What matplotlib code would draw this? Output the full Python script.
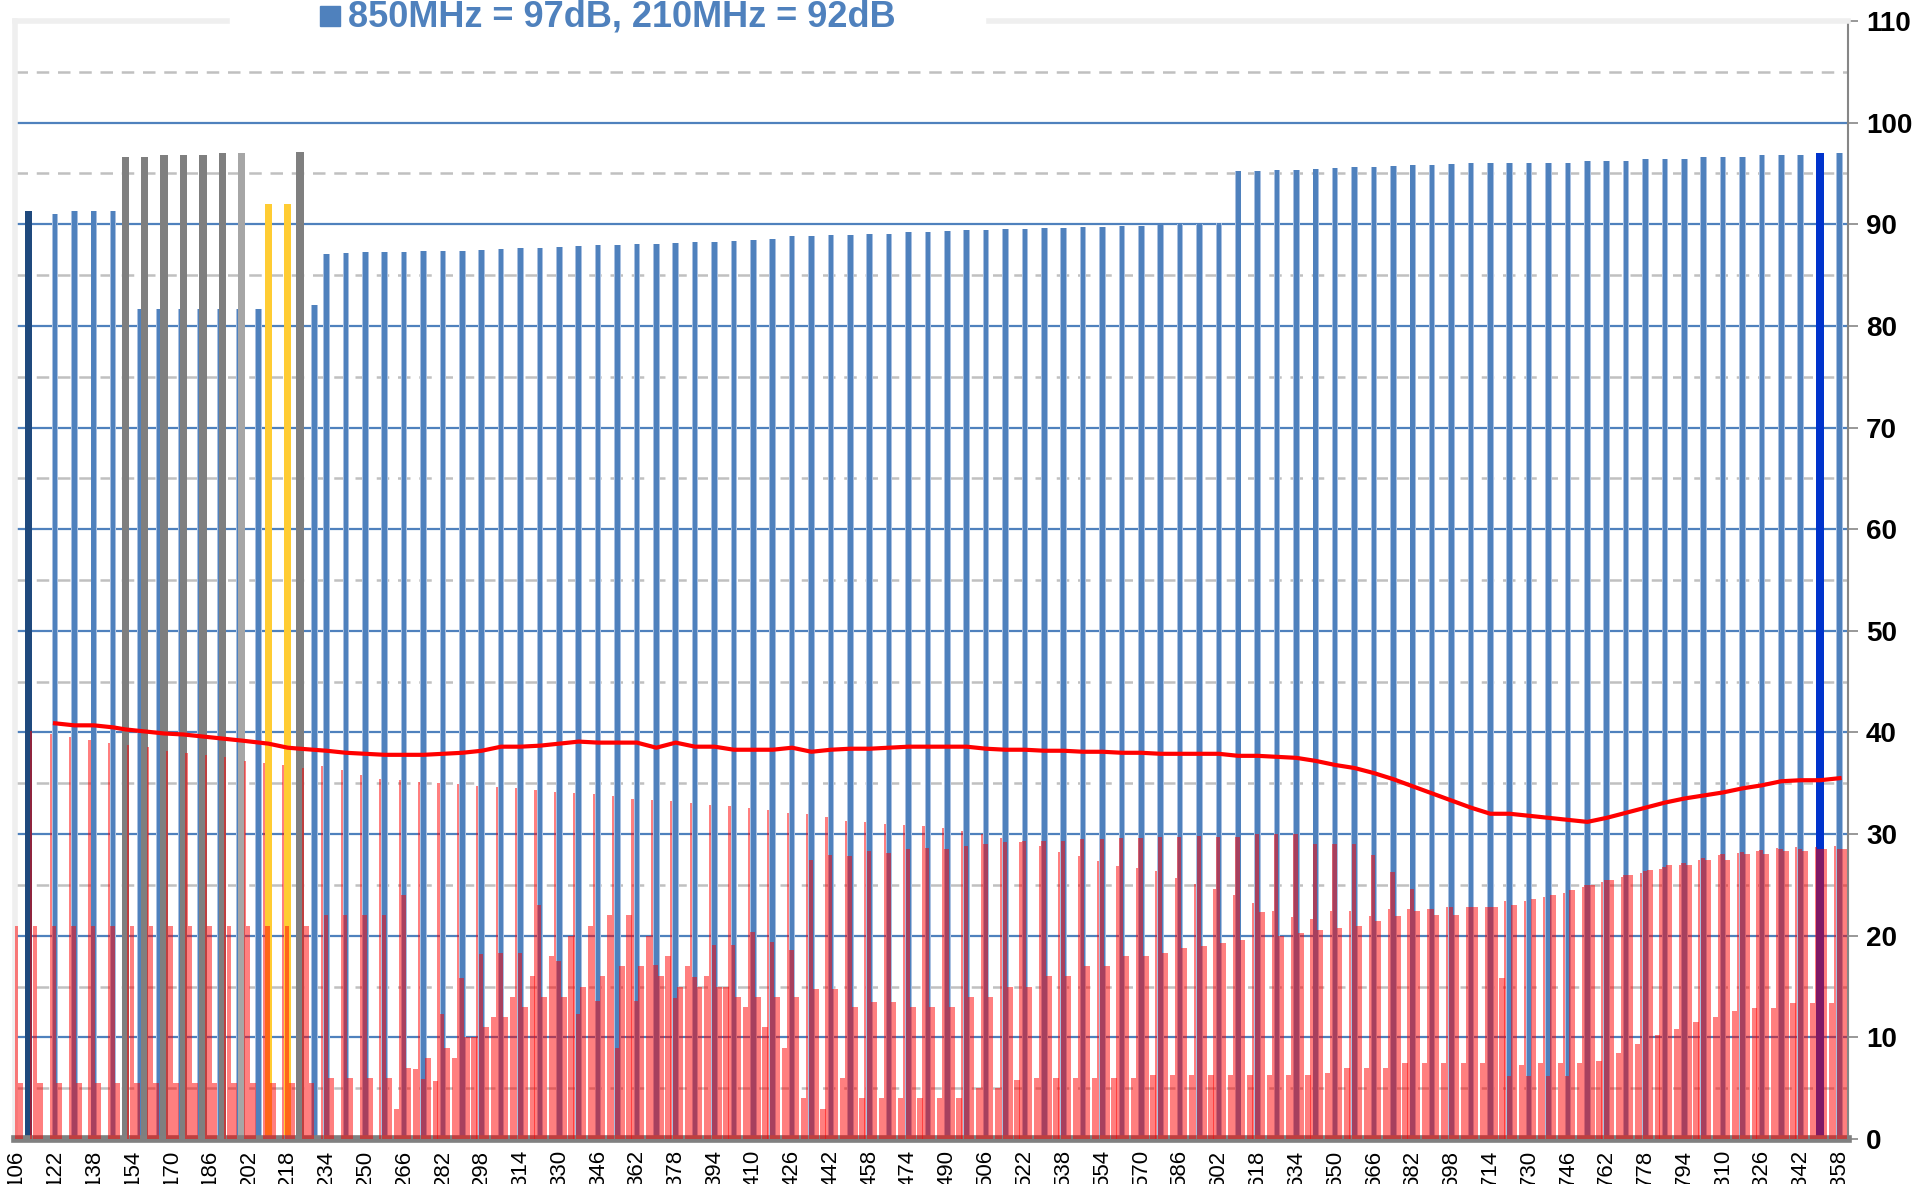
import numpy as np
import matplotlib.pyplot as plt
from matplotlib.patches import Rectangle

plt.rcParams['font.family'] = ['Liberation Sans', 'DejaVu Sans']

# 8 MHz channel grid used by the spectrum (red) bars
grid_mhz = list(range(106, 859, 8))

# measured level per channel (blue bars)
lvl_mhz = [122, 130, 138, 146, 157, 165, 174, 182, 190, 198, 206, 229,
           234, 242, 250, 258, 266, 274, 282, 290, 298, 306, 314, 322, 330, 338,
           346, 354, 362, 370, 378, 386, 394, 402, 410, 418, 426, 434, 442, 450,
           458, 466, 474, 482, 490, 498, 506, 514, 522, 530, 538, 546, 554, 562,
           570, 578, 586, 594, 602, 610, 618, 626, 634, 642, 650, 658, 666, 674,
           682, 690, 698, 706, 714, 722, 730, 738, 746, 754, 762, 770, 778, 786,
           794, 802, 810, 818, 826, 834, 842, 858]
lvl_db = [91.0, 91.3, 91.3, 91.3, 81.7, 81.7, 81.7, 81.7, 81.7, 81.7, 81.7, 82.1,
          87.1, 87.2, 87.3, 87.3, 87.3, 87.4, 87.4, 87.4, 87.5, 87.6, 87.7, 87.7, 87.8, 87.9,
          88.0, 88.0, 88.1, 88.1, 88.2, 88.3, 88.3, 88.4, 88.5, 88.6, 88.8, 88.8, 88.9, 88.9,
          89.0, 89.0, 89.2, 89.2, 89.3, 89.4, 89.4, 89.5, 89.5, 89.6, 89.6, 89.7, 89.7, 89.8,
          89.8, 89.9, 90.0, 90.0, 90.1, 95.2, 95.2, 95.3, 95.3, 95.4, 95.5, 95.6, 95.6, 95.7,
          95.8, 95.8, 95.9, 96.0, 96.0, 96.0, 96.0, 96.0, 96.0, 96.2, 96.2, 96.2, 96.4, 96.4,
          96.4, 96.6, 96.6, 96.6, 96.8, 96.8, 96.8, 97.0]

# highlighted channels
hl_mhz = [111, 151, 159, 167, 175, 183, 191, 199, 210, 218, 223, 850]
hl_db = [91.3, 96.6, 96.6, 96.8, 96.8, 96.8, 97.0, 97.0, 92.0, 92.0, 97.1, 97.0]
hl_col = ['#1F497D', '#7F7F7F', '#7F7F7F', '#7F7F7F', '#7F7F7F', '#7F7F7F',
          '#7F7F7F', '#A6A6A6', '#FFCC33', '#FFCC33', '#7F7F7F', '#0033CC']

# spectrum samples around each grid channel
sp_peak = [0, 40.1, 39.8, 39.6, 39.3, 39.0, 38.8, 38.6, 38.2, 38.0, 37.8, 37.6, 37.2, 37.0,
           36.8, 36.5, 36.7, 36.3, 35.8, 35.4, 35.3, 35.1, 35.0, 34.9, 34.7, 34.6, 34.5,
           34.3, 34.1, 34.0, 33.9, 33.7, 33.5, 33.4, 33.3, 33.1, 32.9, 32.8, 32.6, 32.4,
           32.1, 32.0, 31.7, 31.3, 31.2, 31.0, 30.9, 30.8, 30.6, 30.3, 30.0, 29.6, 29.2,
           28.8, 28.2, 27.8, 27.4, 26.9, 26.7, 26.4, 25.7, 25.1, 24.6, 24.0, 23.2, 22.4,
           21.8, 21.6, 22.4, 22.4, 21.9, 22.6, 22.6, 22.6, 22.8, 22.8, 22.8, 23.4, 23.4,
           23.8, 24.2, 24.8, 25.3, 25.8, 26.2, 26.6, 27.0, 27.5, 27.9, 28.1, 28.3, 28.6,
           28.7, 28.7, 28.8]
sp_centre = [21.0, 21.0, 21.0, 21.0, 21.0, 21.0, 21.0, 21.0, 21.0, 21.0, 21.0, 21.0, 21.0,
             21.0, 21.0, 21.0, 22.0, 22.0, 22.0, 22.0, 24.0, 5.9, 12.3, 15.8, 18.2, 18.3,
             18.3, 23.0, 17.5, 12.3, 13.6, 9.0, 13.6, 17.1, 13.9, 15.9, 19.1, 19.1, 20.4,
             19.4, 18.6, 27.5, 27.9, 27.8, 28.3, 28.1, 28.5, 28.6, 28.5, 28.8, 29.0, 29.2,
             29.3, 29.3, 29.3, 29.5, 29.5, 29.6, 29.6, 29.7, 29.7, 29.8, 29.7, 29.7, 30.0,
             30.0, 30.0, 29.0, 29.0, 29.0, 27.9, 26.3, 24.6, 22.6, 22.8, 22.8, 22.8, 6.2,
             6.2, 6.2, 6.2, 25.0, 25.5, 26.0, 26.4, 26.8, 27.2, 27.6, 28.0, 28.2, 28.4,
             28.5, 28.5, 28.5, 28.5]
sp_upper = [5.5, 5.5, 5.5, 5.5, 5.5, 5.5, 5.5, 5.5, 5.5, 5.5, 5.5, 5.5, 5.5, 5.5, 5.5,
            5.5, 6.0, 6.0, 6.0, 6.0, 7.0, 8.0, 9.0, 10.0, 11.0, 12.0, 13.0, 14.0, 14.0,
            15.0, 16.0, 17.0, 17.0, 16.0, 15.0, 15.0, 15.0, 14.0, 14.0, 14.0, 14.0, 14.8,
            14.8, 13.0, 13.5, 13.5, 13.0, 13.0, 13.0, 14.0, 14.0, 15.0, 15.0, 16.0, 16.0,
            17.0, 17.0, 18.0, 18.0, 18.3, 18.8, 19.0, 19.3, 19.6, 22.3, 20.0, 20.3, 20.6,
            20.8, 21.0, 21.4, 21.9, 22.4, 22.0, 22.0, 22.8, 22.8, 23.0, 23.6, 24.0, 24.5,
            25.0, 25.5, 26.0, 26.5, 27.0, 27.0, 27.5, 27.5, 28.0, 28.0, 28.3, 28.3, 28.5,
            28.5]
sp_lower = [0, 0, 0, 0, 0, 0, 0, 0, 0, 0, 0, 0, 0, 0, 0, 0,
            0, 0, 0, 0, 3.0,
            6.9, 5.7, 8.0, 10.0, 12.0, 14.0, 16.0, 18.0, 20.0, 21.0, 22.0, 22.0, 20.0, 18.0,
            17.0, 16.0, 15.0, 13.0, 11.0, 9.0,
            4.0, 3.0, 6.0, 4.0, 4.0, 4.0, 4.0, 4.0, 4.0,
            5.0, 5.0, 5.8, 6.0, 6.0, 6.0, 6.0, 6.0, 6.0, 6.3, 6.3, 6.3, 6.3,
            6.3, 6.3, 6.3, 6.3, 6.3, 6.5, 7.0, 7.0, 7.0, 7.5, 7.5, 7.5, 7.5, 7.5,
            15.8, 7.3, 7.5, 7.5, 7.5, 7.7, 8.5, 9.3, 10.2, 10.8, 11.5, 12.0, 12.6, 12.9,
            12.9, 13.4, 13.4, 13.4]

# average level trace
avg_mhz = [122, 130, 138, 146, 151, 159, 167, 175, 183, 191, 199, 210, 218, 223, 234, 242,
           250, 258, 266, 274, 282, 290, 298, 306, 314, 322, 330, 338, 346, 354, 362, 370,
           378, 386, 394, 402, 410, 418, 426, 434, 442, 450, 458, 466, 474, 482, 490, 498,
           506, 514, 522, 530, 538, 546, 554, 562, 570, 578, 586, 594, 602, 610, 618, 626,
           634, 642, 650, 658, 666, 674, 682, 690, 698, 706, 714, 722, 730, 738, 746, 754,
           762, 770, 778, 786, 794, 802, 810, 818, 826, 834, 842, 850, 858]
avg_db = [40.9, 40.7, 40.7, 40.5, 40.3, 40.1, 39.9, 39.8, 39.6, 39.4, 39.2, 38.9, 38.5, 38.4,
          38.2, 38.0, 37.9, 37.8, 37.8, 37.8, 37.9, 38.0, 38.2, 38.6, 38.6, 38.7, 38.9, 39.1,
          39.0, 39.0, 39.0, 38.5, 39.0, 38.6, 38.6, 38.3, 38.3, 38.3, 38.5, 38.1, 38.3, 38.4,
          38.4, 38.5, 38.6, 38.6, 38.6, 38.6, 38.4, 38.3, 38.3, 38.2, 38.2, 38.1, 38.1, 38.0,
          38.0, 37.9, 37.9, 37.9, 37.9, 37.7, 37.7, 37.6, 37.5, 37.2, 36.8, 36.5, 36.0, 35.4,
          34.7, 34.0, 33.3, 32.6, 32.0, 32.0, 31.8, 31.6, 31.4, 31.2, 31.6, 32.1, 32.6, 33.1,
          33.5, 33.8, 34.1, 34.5, 34.8, 35.2, 35.3, 35.3, 35.5]

x_ticks = list(range(106, 859, 16))

W, H = 1917, 1184
fig = plt.figure(figsize=(W / 100, H / 100), dpi=100)
ax = fig.add_axes([15 / W, 45 / H, (1848 - 15) / W, (1139 - 21) / H])
ax.set_xlim(105.5, 861.5)
ax.set_ylim(0, 110)

# grid: solid blue every 10, dashed grey in between
for v in range(10, 101, 10):
    ax.axhline(v, color='#4F81BD', lw=1.6, zorder=0.5)
for v in range(5, 110, 10):
    ax.axhline(v, color='#C0C0C0', lw=1.8, ls=(0, (5, 3.5)), zorder=0.4)

# level bars with a soft edge
ax.bar(lvl_mhz, lvl_db, width=2.7, color='#A7BFE0', zorder=1.9)
ax.bar(lvl_mhz, lvl_db, width=1.9, color='#4F81BD', zorder=2)
ax.bar(hl_mhz, hl_db, width=3.0, color=hl_col, zorder=2.2)

g = np.array(grid_mhz)
red = dict(color='#FF0000', alpha=0.5, lw=0, zorder=3)
ax.bar(g - 3.2, sp_lower, width=2.2, **red)
ax.bar(g - 1.8, sp_peak, width=0.9, **red)
ax.bar(g - 0.3, sp_centre, width=1.8, **red)
ax.bar(g + 1.8, sp_upper, width=2.4, **red)

ax.plot(avg_mhz, avg_db, color='#FF0000', lw=3, zorder=4)

# axes frame
ax.yaxis.tick_right()
ax.set_yticks(range(0, 111, 10))
ax.tick_params(axis='y', length=7, width=1.2, color='#868686', pad=6,
               labelsize=20)
for t in ax.get_yticklabels():
    t.set_fontweight('bold')
ax.set_xticks(x_ticks)
ax.set_xticklabels([str(v) for v in x_ticks], rotation=90, fontsize=16)
ax.tick_params(axis='x', length=0, pad=8)

ax.spines['right'].set_color('#868686')
ax.spines['right'].set_linewidth(1.5)
ax.spines['left'].set_color('#EFEFEF')
ax.spines['left'].set_linewidth(4)
ax.spines['top'].set_color('#EFEFEF')
ax.spines['top'].set_linewidth(4)
ax.spines['bottom'].set_color('#808080')
ax.spines['bottom'].set_linewidth(5.5)

# legend entry sitting on the top border
fig.patches.append(Rectangle((230 / W, 1 - 28 / H), 755 / W, 28 / H,
                             transform=fig.transFigure, color='white', zorder=1))
fig.patches.append(Rectangle((320 / W, 1 - 26 / H), 20 / W, 20 / H,
                             transform=fig.transFigure, color='#4F81BD', zorder=2))
fig.text(348 / W, 1 - 27 / H, '850MHz = 97dB, 210MHz = 92dB', color='#4F81BD',
         fontsize=26, fontweight='bold', va='baseline', ha='left')

fig.savefig('out.png', dpi=100)
